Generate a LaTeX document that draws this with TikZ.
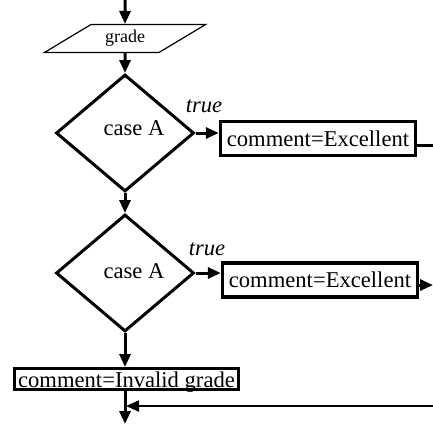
\documentclass[tikz,border=0pt]{standalone}
\usepackage{fontspec}
\setmainfont{Liberation Serif}
\usetikzlibrary{positioning, arrows.meta, shapes.geometric}

\begin{document}
\begin{tikzpicture}[
  x=1pt, y=1pt,
  font=\fontsize{22.6}{27}\selectfont,
  every node/.style={align=center},
  decision/.style={draw, diamond, line width=3pt, minimum width=138pt,
                   minimum height=117pt, inner sep=0pt},
  inout/.style={draw, trapezium, trapezium left angle=31, trapezium right angle=149,
                line width=1.2pt, minimum width=161pt, minimum height=20pt,
                inner sep=0pt, font=\fontsize{18}{21}\selectfont},
  process/.style={draw, rectangle, line width=3.4pt, inner sep=0pt,
                  minimum width=195pt, minimum height=34pt},
  branch/.style={font=\fontsize{22.6}{27}\selectfont\itshape, anchor=base},
  arrow/.style={-{Triangle[length=13pt, width=11pt]}, line width=3pt},
  thinarrow/.style={-{Triangle[length=13pt, width=11pt]}, line width=2pt}
]
\useasboundingbox (0,0) rectangle (433,-424);

\coordinate (start) at (125,0);
\node[inout] (grade) at (125,-38.5) {grade};
\node[decision] (caseA1) at (125,-133) {\raisebox{9pt}{\hspace*{18pt}case A}};
\node[branch] (true1) at (204,-112) {true};
\node[process] (excellent1) at (318,-138.5) {comment=Excellent};
\coordinate (out1) at (433,-145);

\node[decision] (caseA2) at (125,-273) {\raisebox{4pt}{\hspace*{18pt}case A}};
\node[branch] (true2) at (207,-255) {true};
\node[process] (excellent2) at (320,-280) {comment=Excellent};
\coordinate (out2) at (433,-285);

\node[process, line width=3pt, minimum width=224pt, minimum height=21pt,
      text height=16pt, text depth=0pt]
  (invalid) at (126.5,-379) {comment=Invalid grade};
\coordinate (join) at (433,-406);
\coordinate (finish) at (125,-424);

\draw[arrow] (start) -- (grade.north);
\draw[arrow] (grade.south) -- (caseA1.north);
\draw[arrow] (caseA1.east) -- (caseA1.east -| excellent1.west);
\draw[line width=3pt] (out1 -| excellent1.east) -- (out1);
\draw[arrow] (caseA1.south) -- (caseA2.north);
\draw[arrow] (caseA2.east) -- (caseA2.east -| excellent2.west);
\draw[arrow] (out2 -| excellent2.east) -- (out2);
\draw[arrow] (caseA2.south) -- (caseA2.south |- invalid.north);
\draw[arrow] (invalid.south -| finish) -- (finish);
\draw[thinarrow, shorten >=1pt] (join) -- (join -| finish);

\end{tikzpicture}
\end{document}
